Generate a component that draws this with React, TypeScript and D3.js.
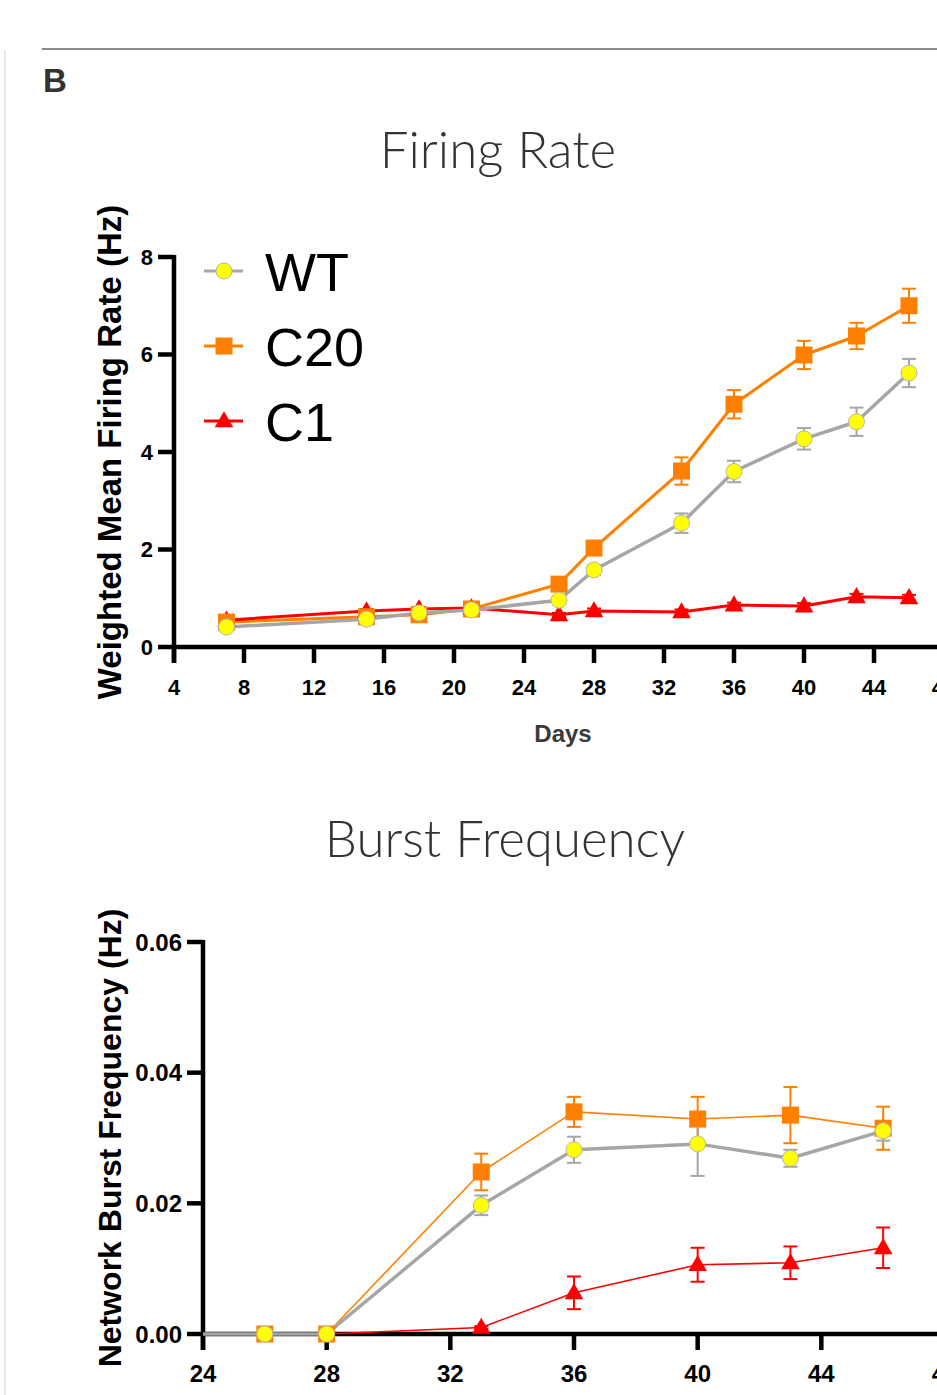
import React from "react";
import * as d3 from "d3";

// ---------- Data ----------
const seriesNames = ["WT", "C20", "C1"];

// Firing rate (Hz)
const frDays = [7, 15, 18, 21, 26, 28, 33, 36, 40, 43, 46];
const frWT = [0.41, 0.57, 0.7, 0.76, 0.96, 1.58, 2.54, 3.6, 4.27, 4.62, 5.62];
const frWTErr = [0.04, 0.05, 0.05, 0.05, 0.08, 0.1, 0.2, 0.22, 0.22, 0.29, 0.29];
const frC20 = [0.51, 0.62, 0.66, 0.78, 1.29, 2.03, 3.61, 4.98, 5.99, 6.38, 7.0];
const frC20Err = [0.05, 0.05, 0.05, 0.05, 0.08, 0.12, 0.28, 0.29, 0.29, 0.27, 0.35];
const frC1 = [0.55, 0.74, 0.78, 0.8, 0.66, 0.74, 0.72, 0.86, 0.84, 1.03, 1.01];
const frC1Err = [0.03, 0.04, 0.04, 0.04, 0.04, 0.05, 0.05, 0.05, 0.06, 0.06, 0.06];

const frXTicks = [4, 8, 12, 16, 20, 24, 28, 32, 36, 40, 44, 48];
const frYTicks = [0, 2, 4, 6, 8];

// Network burst frequency (Hz)
const nbDays = [21, 26, 28, 33, 36, 40, 43, 46];
const nbWT = [0, 0, 0, 0.0197, 0.0282, 0.0291, 0.0269, 0.0311];
const nbWTErr = [0, 0, 0, 0.0015, 0.002, 0.0049, 0.0013, 0.0015];
const nbC20 = [0, 0, 0, 0.0248, 0.034, 0.0329, 0.0335, 0.0315];
const nbC20Err = [0, 0, 0, 0.0028, 0.0023, 0.0034, 0.0043, 0.0033];
const nbC1 = [0, 0, 0, 0.001, 0.0063, 0.0106, 0.0109, 0.0132];
const nbC1Err = [0, 0, 0, 0.0002, 0.0025, 0.0026, 0.0025, 0.0031];

const nbXTicks = [24, 28, 32, 36, 40, 44, 48];
const nbYTicks = [0, 0.02, 0.04, 0.06];

// ---------- Styles ----------
const GRAY = "#A6A6A6";
const ORANGE = "#FF8000";
const RED = "#FF0000";
const YELLOW = "#FFFF00";
const AX = "Liberation Sans, Arial, Helvetica, sans-serif";
const TITLE_FONT = "Lato, 'Noto Sans', 'Open Sans', sans-serif";

type Pt = { x: number; y: number; e: number };

function zip(days: number[], v: number[], e: number[]): Pt[] {
  return days.map((d, i) => ({ x: d, y: v[i], e: e[i] }));
}

function Marker({ kind, cx, cy }: { kind: string; cx: number; cy: number }) {
  if (kind === "circle")
    return <circle cx={cx} cy={cy} r={8} fill={YELLOW} stroke="#B5B5B5" strokeWidth={1} />;
  if (kind === "square")
    return <rect x={cx - 8.5} y={cy - 8.5} width={17} height={17} fill={ORANGE} />;
  const sym = d3.symbol(d3.symbolTriangle, 150)();
  return <path d={sym as string} transform={`translate(${cx},${cy + 1})`} fill={RED} />;
}

function Series({
  pts, xs, ys, color, lw, clipId,
}: {
  pts: Pt[]; xs: d3.ScaleLinear<number, number>; ys: d3.ScaleLinear<number, number>;
  color: string; lw: number; clipId?: string;
}) {
  const line = d3.line<Pt>().x((d) => xs(d.x)).y((d) => ys(d.y));
  return (
    <path d={line(pts) as string} fill="none" stroke={color} strokeWidth={lw}
      strokeLinejoin="round" clipPath={clipId ? `url(#${clipId})` : undefined} />
  );
}

function ErrBars({ pts, xs, ys, color, domain }: {
  pts: Pt[]; xs: d3.ScaleLinear<number, number>; ys: d3.ScaleLinear<number, number>;
  color: string; domain: [number, number];
}) {
  return (
    <g stroke={color} strokeWidth={2} fill="none">
      {pts.filter((p) => p.x >= domain[0] && p.e > 0).map((p, i) => {
        const x = xs(p.x), y1 = ys(p.y + p.e), y2 = ys(p.y - p.e);
        return (
          <g key={i}>
            <line x1={x} x2={x} y1={y1} y2={y2} />
            <line x1={x - 7} x2={x + 7} y1={y1} y2={y1} />
            <line x1={x - 7} x2={x + 7} y1={y2} y2={y2} />
          </g>
        );
      })}
    </g>
  );
}

function Markers({ pts, xs, ys, kind, domain }: {
  pts: Pt[]; xs: d3.ScaleLinear<number, number>; ys: d3.ScaleLinear<number, number>;
  kind: string; domain: [number, number];
}) {
  return (
    <g>
      {pts.filter((p) => p.x >= domain[0]).map((p, i) => (
        <Marker key={i} kind={kind} cx={xs(p.x)} cy={ys(p.y)} />
      ))}
    </g>
  );
}

function Axes({ xs, ys, xTicks, yTicks, xFont, yFont, yFmt }: {
  xs: d3.ScaleLinear<number, number>; ys: d3.ScaleLinear<number, number>;
  xTicks: number[]; yTicks: number[]; xFont: number; yFont: number; yFmt: (v: number) => string;
}) {
  const x0 = xs(xs.domain()[0]);
  const x1 = xs(xs.domain()[1]);
  const y0 = ys(ys.domain()[0]);
  const yTop = ys(ys.domain()[1]);
  const tick = 16;
  return (
    <g>
      <line x1={x0} x2={x1 + 10} y1={y0} y2={y0} stroke="#000" strokeWidth={4.5} />
      <line x1={x0} x2={x0} y1={yTop - 2} y2={y0 + tick} stroke="#000" strokeWidth={4.5} />
      {xTicks.map((t) => (
        <g key={"x" + t}>
          <line x1={xs(t)} x2={xs(t)} y1={y0} y2={y0 + tick} stroke="#000" strokeWidth={4.5} />
          <text x={xs(t)} y={y0 + 48} textAnchor="middle"
            fontFamily={AX} fontWeight="bold" fontSize={xFont} fill="#000">{t}</text>
        </g>
      ))}
      {yTicks.map((t) => (
        <g key={"y" + t}>
          <line x1={x0 - tick} x2={x0} y1={ys(t)} y2={ys(t)} stroke="#000" strokeWidth={4.5} />
          <text x={x0 - tick - 5} y={ys(t)} dy="0.36em" textAnchor="end"
            fontFamily={AX} fontWeight="bold" fontSize={yFont} fill="#000">{yFmt(t)}</text>
        </g>
      ))}
    </g>
  );
}

export default function App() {
  // Firing rate chart scales
  const frX = d3.scaleLinear().domain([4, 48]).range([174, 944]);
  const frY = d3.scaleLinear().domain([0, 8]).range([647, 257]);
  // Burst frequency chart scales
  const nbX = d3.scaleLinear().domain([24, 48]).range([203, 945]);
  const nbY = d3.scaleLinear().domain([0, 0.06]).range([1334, 942]);

  const frDom: [number, number] = [4, 48];
  const nbDom: [number, number] = [24, 48];

  const fWT = zip(frDays, frWT, frWTErr);
  const fC20 = zip(frDays, frC20, frC20Err);
  const fC1 = zip(frDays, frC1, frC1Err);
  const bWT = zip(nbDays, nbWT, nbWTErr);
  const bC20 = zip(nbDays, nbC20, nbC20Err);
  const bC1 = zip(nbDays, nbC1, nbC1Err);

  const legendKinds = ["circle", "square", "triangle"];
  const legendColors = [GRAY, ORANGE, RED];

  return (
    <svg width={937} height={1395} style={{ position: "absolute", left: 0, top: 0, background: "#fff" }}>
      <rect x={0} y={0} width={937} height={1395} fill="#fff" />
      <line x1={5} x2={5} y1={50} y2={1395} stroke="#E2E2E2" strokeWidth={1.5} />
      <line x1={42} x2={937} y1={49} y2={49} stroke="#8A8A8A" strokeWidth={2} />
      <text x={43} y={92} fontFamily={AX} fontWeight="bold" fontSize={33} fill="#333">B</text>

      <defs>
        <clipPath id="nbclip">
          <rect x={203} y={900} width={800} height={460} />
        </clipPath>
      </defs>

      {/* ---------- Firing Rate ---------- */}
      <text x={498} y={168} textAnchor="middle" fontFamily={TITLE_FONT} fontWeight={300}
        fontSize={51} fill="#333">Firing Rate</text>
      <text transform="translate(121,452) rotate(-90)" textAnchor="middle" fontFamily={AX}
        fontWeight="bold" fontSize={33} fill="#000">Weighted Mean Firing Rate (Hz)</text>
      <text x={563} y={742} textAnchor="middle" fontFamily={AX} fontWeight="bold"
        fontSize={24} fill="#3A3A3A">Days</text>

      <Axes xs={frX} ys={frY} xTicks={frXTicks} yTicks={frYTicks} xFont={22} yFont={22}
        yFmt={(v) => String(v)} />

      <Series pts={fC20} xs={frX} ys={frY} color={ORANGE} lw={3} />
      <Series pts={fC1} xs={frX} ys={frY} color={RED} lw={3} />
      <Series pts={fWT} xs={frX} ys={frY} color={GRAY} lw={3.5} />
      <ErrBars pts={fC1} xs={frX} ys={frY} color={RED} domain={frDom} />
      <ErrBars pts={fC20} xs={frX} ys={frY} color={ORANGE} domain={frDom} />
      <ErrBars pts={fWT} xs={frX} ys={frY} color={GRAY} domain={frDom} />
      <Markers pts={fC1} xs={frX} ys={frY} kind="triangle" domain={frDom} />
      <Markers pts={fC20} xs={frX} ys={frY} kind="square" domain={frDom} />
      <Markers pts={fWT} xs={frX} ys={frY} kind="circle" domain={frDom} />

      {/* Legend */}
      {seriesNames.map((n, i) => {
        const cy = 271 + i * 75;
        return (
          <g key={n}>
            <line x1={204} x2={243} y1={cy} y2={cy} stroke={legendColors[i]} strokeWidth={3} />
            <Marker kind={legendKinds[i]} cx={224} cy={cy} />
            <text x={265} y={cy + 20} fontFamily={AX} fontSize={54} fill="#000">{n}</text>
          </g>
        );
      })}

      {/* ---------- Burst Frequency ---------- */}
      <text x={505} y={857} textAnchor="middle" fontFamily={TITLE_FONT} fontWeight={300}
        fontSize={51} fill="#333">Burst Frequency</text>
      <text transform="translate(121,1138) rotate(-90)" textAnchor="middle" fontFamily={AX}
        fontWeight="bold" fontSize={32} fill="#000">Network Burst Frequency (Hz)</text>

      <Axes xs={nbX} ys={nbY} xTicks={nbXTicks} yTicks={nbYTicks} xFont={24} yFont={24}
        yFmt={(v) => d3.format(".2f")(v)} />

      <Series pts={bC1} xs={nbX} ys={nbY} color={RED} lw={1.6} clipId="nbclip" />
      <Series pts={bC20} xs={nbX} ys={nbY} color={ORANGE} lw={1.6} clipId="nbclip" />
      <Series pts={bWT} xs={nbX} ys={nbY} color={GRAY} lw={3.5} clipId="nbclip" />
      <ErrBars pts={bC1} xs={nbX} ys={nbY} color={RED} domain={nbDom} />
      <ErrBars pts={bC20} xs={nbX} ys={nbY} color={ORANGE} domain={nbDom} />
      <ErrBars pts={bWT} xs={nbX} ys={nbY} color={GRAY} domain={nbDom} />
      <Markers pts={bC1.filter((p) => p.y > 0)} xs={nbX} ys={nbY} kind="triangle" domain={nbDom} />
      <Markers pts={bC20} xs={nbX} ys={nbY} kind="square" domain={nbDom} />
      <Markers pts={bWT} xs={nbX} ys={nbY} kind="circle" domain={nbDom} />
    </svg>
  );
}
